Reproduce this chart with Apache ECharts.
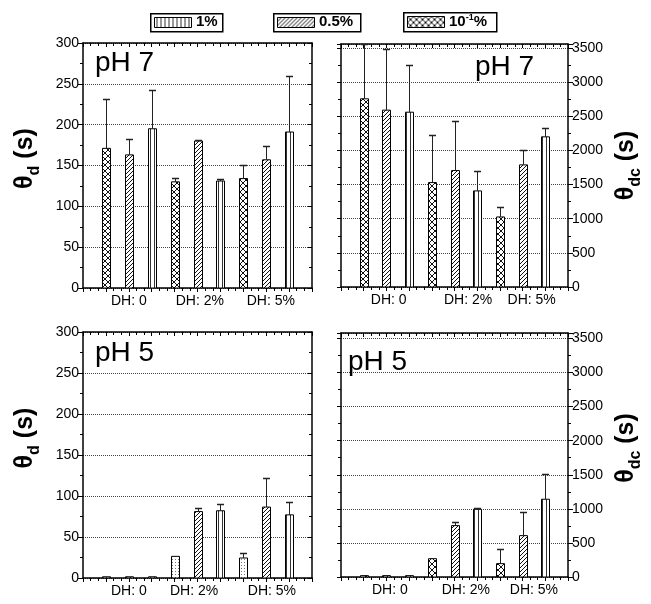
<!DOCTYPE html>
<html><head><meta charset="utf-8">
<script src="https://cdn.jsdelivr.net/npm/echarts@6/dist/echarts.min.js"></script>
<style>html,body{margin:0;padding:0;background:#fff}#c{width:651px;height:604px}</style>
</head><body><div id="c"></div>
<script>
// ---- data ----
const concentrations = ['10\u207B\u00B9%', '0.5%', '1%']; // order of bars inside each DH group
const dhLabels = ['DH: 0', 'DH: 2%', 'DH: 5%'];

// theta_d, pH 7 (s)
const thd7_c01 = [171, 130, 134];  const thd7_c01_sd = [61, 5, 17];
const thd7_c05 = [163, 180, 157];  const thd7_c05_sd = [19, 1, 17];
const thd7_c1  = [195, 131, 191];  const thd7_c1_sd  = [48, 3, 69];
// theta_dc, pH 7 (s)
const thdc7_c01 = [2757, 1530, 1026]; const thdc7_c01_sd = [800, 704, 147];
const thdc7_c05 = [2591, 1706, 1789]; const thdc7_c05_sd = [889, 733, 215];
const thdc7_c1  = [2561, 1408, 2200]; const thdc7_c1_sd  = [689, 298, 136];
// theta_d, pH 5 (s)
const thd5_c01 = [1.5, 26.4, 24.4]; const thd5_c01_sd = [0, 0, 6];
const thd5_c05 = [1.5, 81, 86.5];   const thd5_c05_sd = [0, 4, 35];
const thd5_c1  = [1.5, 82, 77];     const thd5_c1_sd  = [0, 8.6, 16];
// theta_dc, pH 5 (s)
const thdc5_c01 = [20, 269, 196];   const thdc5_c01_sd = [0, 0, 210];
const thdc5_c05 = [20, 754, 607];   const thdc5_c05_sd = [0, 59, 343];
const thdc5_c1  = [20, 994, 1141];  const thdc5_c1_sd  = [0, 20, 367];

// ---- patterns ----
function tile(size, draw) {
  const c = document.createElement('canvas'); c.width = size; c.height = size;
  const g = c.getContext('2d'); g.fillStyle = '#fff'; g.fillRect(0, 0, size, size);
  draw(g, size); return c;
}
const patCross = { image: tile(6, (g, s) => { g.strokeStyle = '#111'; g.lineWidth = 1; g.beginPath(); g.moveTo(0, 0); g.lineTo(s, s); g.moveTo(s, 0); g.lineTo(0, s); g.stroke(); }), repeat: 'repeat' };
const patDiag = { image: tile(4, (g, s) => { g.strokeStyle = '#111'; g.lineWidth = 1; g.beginPath(); g.moveTo(0, s); g.lineTo(s, 0); g.moveTo(-1, 1); g.lineTo(1, -1); g.moveTo(s - 1, s + 1); g.lineTo(s + 1, s - 1); g.stroke(); }), repeat: 'repeat' };
const patVert = { image: tile(4, (g, s) => { g.fillStyle = '#333'; g.fillRect(2, 0, 1, s); }), repeat: 'repeat' };
const patDots = { image: tile(3, (g, s) => { g.fillStyle = '#777'; g.fillRect(1, 1, 1, 1); }), repeat: 'repeat' };

// ---- panels ----
const FONT = 'Liberation Sans';
const panels = [
  { grid: { left: 83, top: 43, width: 229, height: 245 }, max: 300, interval: 50, side: 'left', sub: 'd',
    vals: [thd7_c01, thd7_c05, thd7_c1], sds: [thd7_c01_sd, thd7_c05_sd, thd7_c1_sd], pats: [patCross, patDiag, patVert],
    labelPos: [2, 5.1, 8.2], namePad: 14 },
  { grid: { left: 341, top: 44, width: 227, height: 243 }, max: 3560, interval: 500, side: 'right', sub: 'dc',
    vals: [thdc7_c01, thdc7_c05, thdc7_c1], sds: [thdc7_c01_sd, thdc7_c05_sd, thdc7_c1_sd], pats: [patCross, patDiag, patVert],
    labelPos: [2.1, 5.6, 8.4], namePad: 0 },
  { grid: { left: 83, top: 332, width: 229, height: 246 }, max: 300, interval: 50, side: 'left', sub: 'd',
    vals: [thd5_c01, thd5_c05, thd5_c1], sds: [thd5_c01_sd, thd5_c05_sd, thd5_c1_sd], pats: [patDots, patDiag, patVert],
    labelPos: [2, 4.85, 8.25], namePad: 34 },
  { grid: { left: 341, top: 333, width: 227, height: 244 }, max: 3580, interval: 500, side: 'right', sub: 'dc',
    vals: [thdc5_c01, thdc5_c05, thdc5_c1], sds: [thdc5_c01_sd, thdc5_c05_sd, thdc5_c1_sd], pats: [patCross, patDiag, patVert],
    labelPos: [2.15, 5.5, 8.5], namePad: 14 }
];

const grids = [], xAxes = [], yAxes = [], series = [];
panels.forEach((p, i) => {
  grids.push(Object.assign({ show: false }, p.grid));
  const lineStyle = { color: '#000', width: 1.5 };
  xAxes.push({
    gridIndex: i, type: 'value', min: 0, max: 10, interval: 1, position: 'bottom',
    axisLine: { onZero: false, lineStyle },
    axisTick: { inside: false, length: 4, lineStyle: { color: '#000' } },
    minorTick: { show: true, splitNumber: 3, length: 3, lineStyle: { color: '#000' } },
    splitLine: { show: false },
    axisLabel: { customValues: p.labelPos, formatter: v => dhLabels[p.labelPos.indexOf(v)] || '',
      fontSize: 14, color: '#000', fontFamily: FONT, margin: 6 }
  });
  xAxes.push({
    gridIndex: i, type: 'value', min: 0, max: 10, interval: 1, position: 'top',
    axisLine: { onZero: false, lineStyle },
    axisTick: { inside: true, length: 4, lineStyle: { color: '#000' } },
    minorTick: { show: true, splitNumber: 3, length: 3, lineStyle: { color: '#000' } },
    splitLine: { show: false }, axisLabel: { show: false }
  });
  const other = p.side === 'left' ? 'right' : 'left';
  yAxes.push({
    gridIndex: i, type: 'value', min: 0, max: p.max, interval: p.interval, position: p.side,
    axisLine: { show: true, onZero: false, lineStyle },
    axisTick: { show: true, inside: false, length: 5, lineStyle: { color: '#000' } },
    minorTick: { show: true, splitNumber: 2, length: 3, lineStyle: { color: '#000' } },
    splitLine: { show: true, lineStyle: { color: '#444', type: 'dotted', width: 1 } },
    axisLabel: { color: '#000', fontSize: 14, fontFamily: FONT, margin: 4,
      formatter: v => (v % p.interval === 0 ? String(v) : '') },
    name: '{t|\u03B8}{s|' + p.sub + '}{t| (s)}', nameLocation: 'middle', nameGap: 40, nameRotate: 90,
    nameTextStyle: { padding: [0, 0, 0, p.namePad], rich: {
      t: { fontSize: 25, fontWeight: 'bold', fontFamily: FONT, color: '#000', lineHeight: 36 },
      s: { fontSize: 16, fontWeight: 'bold', fontFamily: FONT, color: '#000', verticalAlign: 'bottom', lineHeight: 17 } } }
  });
  yAxes.push({
    gridIndex: i, type: 'value', min: 0, max: p.max, interval: p.interval, position: other,
    axisLine: { show: true, onZero: false, lineStyle },
    axisTick: { show: true, inside: p.side === 'left', length: 4, lineStyle: { color: '#000' } },
    minorTick: { show: true, splitNumber: 2, length: 3, lineStyle: { color: '#000' } },
    splitLine: { show: false }, axisLabel: { show: false }
  });
  p.vals.forEach((arr, k) => {
    const data = arr.map((v, g) => [g * 3 + k + 1, v, p.sds[k][g]]);
    const pat = p.pats[k];
    series.push({
      type: 'custom', name: concentrations[k], xAxisIndex: 2 * i, yAxisIndex: 2 * i, clip: true, z: 3,
      data,
      renderItem: (params, api) => {
        const x = api.value(0), y = api.value(1);
        const b = api.coord([x, 0]), t = api.coord([x, y]);
        const w = 8, left = Math.round(b[0] - w / 2) + 0.5;
        return { type: 'rect', shape: { x: left, y: t[1], width: w, height: b[1] - t[1] },
          style: { fill: pat, stroke: '#000', lineWidth: 1 } };
      }
    });
    series.push({
      type: 'custom', name: concentrations[k] + ' sd', xAxisIndex: 2 * i, yAxisIndex: 2 * i, clip: true, z: 4,
      data: data.filter(d => d[2] > 0),
      renderItem: (params, api) => {
        const x = api.value(0), y = api.value(1), sd = api.value(2);
        const t = api.coord([x, y]), e = api.coord([x, y + sd]);
        const cx = Math.round(t[0]) + 0.5, ey = Math.round(e[1]) + 0.5;
        return { type: 'group', children: [
          { type: 'line', shape: { x1: cx, y1: t[1], x2: cx, y2: ey }, style: { stroke: '#222', lineWidth: 1 } },
          { type: 'line', shape: { x1: cx - 3.5, y1: ey, x2: cx + 3.5, y2: ey }, style: { stroke: '#222', lineWidth: 1.5 } }
        ] };
      }
    });
  });
});

// ---- legend boxes & panel titles ----
const legendItems = [
  { box: [150, 13, 72, 18], pat: patVert, text: '{n|1%}' },
  { box: [273, 13, 87, 18], pat: patDiag, text: '{n|0.5%}' },
  { box: [403, 12, 93, 19], pat: patCross, text: '{n|10}{sup|-1}{n|%}' }
];
const graphic = [];
legendItems.forEach(it => {
  const [x, y, w, h] = it.box;
  graphic.push({ type: 'rect', left: x, top: y, shape: { width: w, height: h }, style: { fill: '#fff', stroke: '#000', lineWidth: 1.5 }, z: 10 });
  graphic.push({ type: 'rect', left: x + 4, top: y + 4, shape: { width: 37, height: h - 8 }, style: { fill: it.pat, stroke: '#000', lineWidth: 1 }, z: 11 });
  graphic.push({ type: 'text', left: x + 46, top: y + 1, z: 11, style: { text: it.text, fill: '#000',
    rich: { n: { fontSize: 15, fontWeight: 'bold', fontFamily: FONT, lineHeight: 17 },
            sup: { fontSize: 9, fontWeight: 'bold', fontFamily: FONT, verticalAlign: 'top', lineHeight: 10 } } } });
});
const titles = [
  { text: 'pH 7', x: 95, y: 63 }, { text: 'pH 7', x: 475, y: 67 },
  { text: 'pH 5', x: 95, y: 353 }, { text: 'pH 5', x: 348, y: 362 }
];
titles.forEach(t => graphic.push({ type: 'text', x: t.x, y: t.y, z: 12,
  style: { text: t.text, fontSize: 28, fontFamily: FONT, fill: '#000', textVerticalAlign: 'middle', verticalAlign: 'middle' } }));

const chart = echarts.init(document.getElementById('c'), null, { renderer: 'canvas' });
chart.setOption({ animation: false, backgroundColor: '#fff', grid: grids, xAxis: xAxes, yAxis: yAxes, series, graphic });
</script></body></html>
